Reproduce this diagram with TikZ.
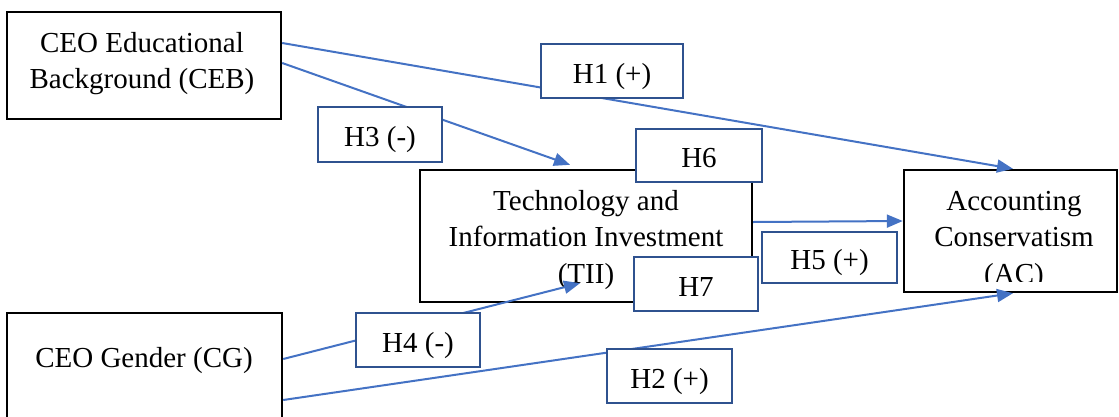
\documentclass[tikz,border=0pt]{standalone}
\usepackage{fontspec}
\setmainfont{Liberation Serif}
\usetikzlibrary{arrows.meta}
\definecolor{connblue}{HTML}{4472C4}
\definecolor{lblborder}{HTML}{2F528F}
\tikzset{
  mainbox/.style={draw=black, line width=2.4pt, fill=white, rectangle, inner sep=0pt},
  lblbox/.style={draw=lblborder, line width=2pt, fill=white, rectangle, inner sep=0pt, text height=24pt, text depth=0pt, font=\fontsize{29}{36}\selectfont},
  connector/.style={draw=connblue, line width=2pt, -{Triangle[length=16pt,width=13pt]}},
  boxtext/.style={align=center, font=\fontsize{29}{36.5}\selectfont, inner sep=0pt},
}
\begin{document}
\begin{tikzpicture}[x=1pt,y=-1pt]
\useasboundingbox (0,0) rectangle (1119,416);
% main boxes
\node[mainbox, minimum width=274pt, minimum height=107pt] (ceb) at (144,65.5) {};
\node[boxtext] (cebtext) at (142,63.5) {CEO Educational\\Background (CEB)};
\node[mainbox, minimum width=332pt, minimum height=132pt] (tii) at (586,236) {};
\node[boxtext] (tiitext) at (586,240) {Technology and\\Information Investment\\(TII)};
\node[mainbox, minimum width=213pt, minimum height=122pt] (ac) at (1010.5,231) {};
\begin{scope}
\clip (905,171) rectangle (1116,281.5);
\node[boxtext] (actext) at (1014,240) {Accounting\\Conservatism\\(AC)};
\end{scope}
\node[mainbox, minimum width=275pt, minimum height=117pt] (cg) at (144.5,371.5) {};
\node[boxtext] (cgtext) at (144,361) {CEO Gender (CG)};
% connectors
\draw[connector] ([yshift=22.5pt]ceb.east) -- ([xshift=2.5pt]ac.north);
\draw[connector] ([yshift=2.5pt]ceb.east) -- ([xshift=-16pt,yshift=4pt]tii.north);
\draw[connector] ([yshift=12.5pt]cg.east) -- ([xshift=-6pt,yshift=20pt]tii.south);
\draw[connector] ([yshift=-28.5pt]cg.east) -- ([xshift=2.5pt]ac.south);
\draw[connector] ([yshift=14pt]tii.east) -- ([yshift=10pt]ac.west);
% hypothesis labels
\node[lblbox, minimum width=142pt, minimum height=54pt] (h1) at (612,71) {H1 (+)};
\node[lblbox, minimum width=124pt, minimum height=55pt] (h3) at (380,134.5) {H3 (-)};
\node[lblbox, minimum width=126pt, minimum height=53pt] (h6) at (699,155.5) {H6};
\node[lblbox, minimum width=124pt, minimum height=54pt] (h7) at (696,284) {H7};
\node[lblbox, minimum width=135pt, minimum height=51pt] (h5) at (829.5,257.5) {H5 (+)};
\node[lblbox, minimum width=124pt, minimum height=54pt] (h4) at (418,340) {H4 (-)};
\node[lblbox, minimum width=125pt, minimum height=54pt] (h2) at (669.5,376) {H2 (+)};
\end{tikzpicture}
\end{document}
